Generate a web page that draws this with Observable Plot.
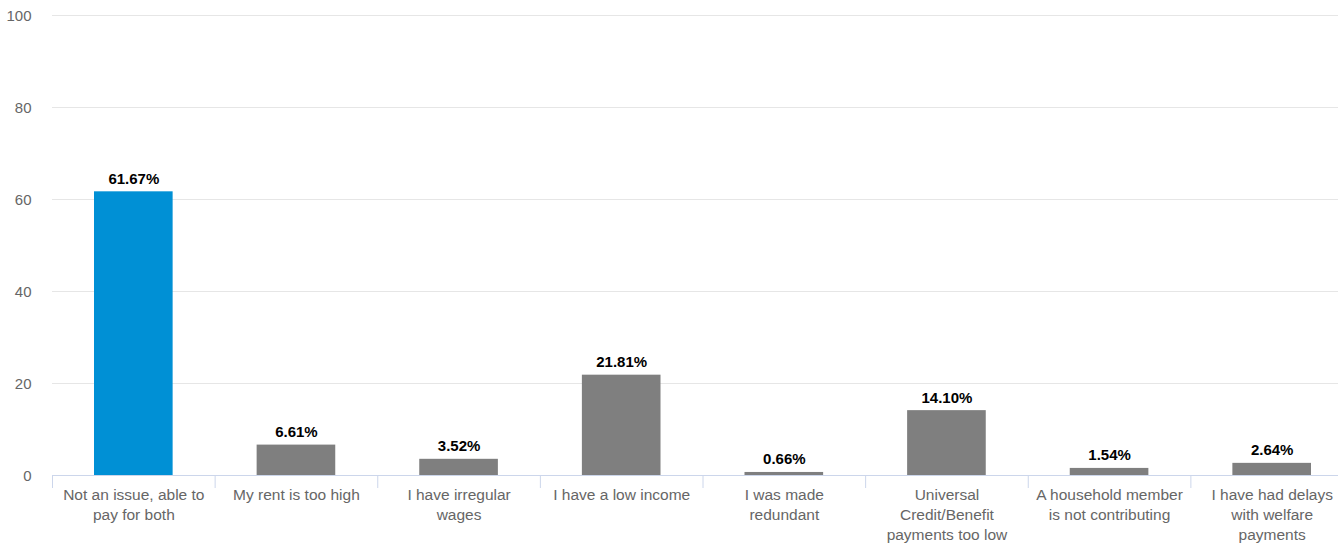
<!DOCTYPE html>
<html><head><meta charset="utf-8">
<script src="https://cdn.jsdelivr.net/npm/d3@7"></script>
<script src="https://cdn.jsdelivr.net/npm/@observablehq/plot@0.6"></script>
<style>
body{margin:0;background:#fff;overflow:hidden}
#chart{width:1338px;height:545px;overflow:hidden}
#chart svg{max-width:none !important;width:1355px !important;height:545px !important}
</style>
</head><body><div id="chart"></div>
<script>
const categories = [
  "Not an issue, able to pay for both",
  "My rent is too high",
  "I have irregular wages",
  "I have a low income",
  "I was made redundant",
  "Universal Credit/Benefit payments too low",
  "A household member is not contributing",
  "I have had delays with welfare payments"
];
const tickLabels = [
  "Not an issue, able to\npay for both",
  "My rent is too high",
  "I have irregular\nwages",
  "I have a low income",
  "I was made\nredundant",
  "Universal\nCredit/Benefit\npayments too low",
  "A household member\nis not contributing",
  "I have had delays\nwith welfare\npayments"
];
const values = [61.67, 6.61, 3.52, 21.81, 0.66, 14.10, 1.54, 2.64];
const highlighted = ["Not an issue, able to pay for both"];
const yTicks = [0, 20, 40, 60, 80, 100];

const data = categories.map((c, i) => ({category: c, value: values[i], hi: highlighted.includes(c)}));
const labelMap = new Map(categories.map((c, i) => [c, tickLabels[i]]));

const W = 1355, ML = 52, MR = 2;
const step = (W - ML - MR) / categories.length;

const chart = Plot.plot({
  width: W, height: 545,
  marginTop: 15, marginBottom: 70, marginLeft: ML, marginRight: MR,
  style: {fontFamily: "'Liberation Sans', Arial, sans-serif", fontSize: "15px", background: "#fff"},
  x: {domain: categories, padding: 0, round: false, label: null},
  y: {domain: [0, 100], label: null},
  marks: [
    Plot.gridY(yTicks.filter(d => d > 0), {stroke: "#e6e6e6", strokeOpacity: 1}),
    Plot.axisY(yTicks, {tickSize: 0, tickPadding: 21, dy: 1, fill: "#666", fontSize: 15, label: null}),
    Plot.barY(data, {x: "category", y: "value", fill: d => d.hi ? "#0090d5" : "#7f7f7f", insetLeft: 42, insetRight: 42}),
    Plot.ruleY([0], {stroke: "#ccd6eb"}),
    Plot.axisX({tickSize: 13, dx: -step / 2, stroke: "#ccd6eb", strokeOpacity: 1, tickFormat: () => "", label: null}),
    Plot.axisX({tickSize: 0, tickPadding: 10, tickFormat: d => labelMap.get(d), fill: "#666", fontSize: 15.5, lineHeight: 1.29, label: null}),
    Plot.text(data, {x: "category", y: "value", text: d => d.value.toFixed(2) + "%", dy: -8, lineAnchor: "bottom", fontWeight: "bold", fill: "#000", fontSize: 15})
  ]
});
document.getElementById("chart").append(chart);
</script>
</body></html>
